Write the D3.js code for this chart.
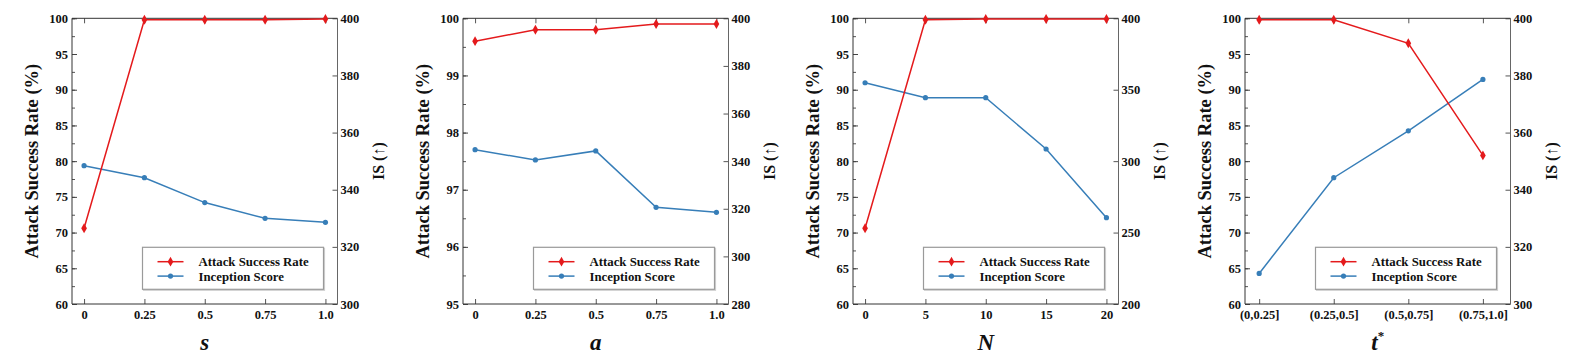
<!DOCTYPE html>
<html>
<head>
<meta charset="utf-8">
<script src="https://cdn.jsdelivr.net/npm/d3@7"></script>
<style>
  html, body { margin: 0; padding: 0; background: #fff; }
  svg { display: block; }
  text { font-family: "Liberation Serif", "Times New Roman", serif; font-weight: bold; }
</style>
</head>
<body>
<svg id="chart" width="1578" height="362"></svg>
<script>
// ---- Data ----
const asrLabel = "Attack Success Rate";
const isLabel = "Inception Score";

// Panel 1: s
const sValues = [0, 0.25, 0.5, 0.75, 1.0];
const sTickLabels = ["0", "0.25", "0.5", "0.75", "1.0"];
const sASR = [70.6, 99.8, 99.8, 99.8, 99.9];
const sIS = [348.4, 344.2, 335.5, 330.0, 328.6];

// Panel 2: a
const aValues = [0, 0.25, 0.5, 0.75, 1.0];
const aTickLabels = ["0", "0.25", "0.5", "0.75", "1.0"];
const aASR = [99.6, 99.8, 99.8, 99.9, 99.9];
const aIS = [344.8, 340.5, 344.3, 320.6, 318.5];

// Panel 3: N
const nValues = [0, 5, 10, 15, 20];
const nTickLabels = ["0", "5", "10", "15", "20"];
const nASR = [70.6, 99.8, 99.9, 99.9, 99.9];
const nIS = [354.9, 344.4, 344.4, 308.5, 260.4];

// Panel 4: t*
const tCategories = ["(0,0.25]", "(0.25,0.5]", "(0.5,0.75]", "(0.75,1.0]"];
const tASR = [99.8, 99.8, 96.5, 80.8];
const tIS = [310.7, 344.2, 360.6, 378.6];

// Axis tick labels
const leftTicksA = [60, 65, 70, 75, 80, 85, 90, 95, 100];
const leftTicksB = [95, 96, 97, 98, 99, 100];
const rightTicks1 = [300, 320, 340, 360, 380, 400];
const rightTicks2 = [280, 300, 320, 340, 360, 380, 400];
const rightTicks3 = [200, 250, 300, 350, 400];

const RED = "#e41a1c";
const BLUE = "#377eb8";

const panels = [
  { left: 72, xs: sValues, xLabels: sTickLabels, xDomain: [-0.05, 1.05], asr: sASR, is: sIS,
    yDomain: [60, 100], yTicks: leftTicksA, yMinor: 2.5, y2Domain: [300, 400], y2Ticks: rightTicks1, title: "s" },
  { left: 463, xs: aValues, xLabels: aTickLabels, xDomain: [-0.05, 1.05], asr: aASR, is: aIS,
    yDomain: [95, 100], yTicks: leftTicksB, yMinor: 0.5, y2Domain: [280, 400], y2Ticks: rightTicks2, title: "a" },
  { left: 853, xs: nValues, xLabels: nTickLabels, xDomain: [-1, 21], asr: nASR, is: nIS,
    yDomain: [60, 100], yTicks: leftTicksA, yMinor: 2.5, y2Domain: [200, 400], y2Ticks: rightTicks3, title: "N" },
  { left: 1245, xs: tCategories.map((d, i) => i), xLabels: tCategories, xDomain: [-0.19, 3.37], asr: tASR, is: tIS,
    yDomain: [60, 100], yTicks: leftTicksA, yMinor: 2.5, y2Domain: [300, 400], y2Ticks: rightTicks1, title: "t*" }
];

const W = 265.5, TOP = 18.3, BOTTOM = 304;
const svg = d3.select("#chart");

panels.forEach(p => {
  const g = svg.append("g").attr("transform", `translate(${p.left},${TOP})`);
  const h = BOTTOM - TOP;
  const x = d3.scaleLinear().domain(p.xDomain).range([0, W]);
  const y = d3.scaleLinear().domain(p.yDomain).range([h, 0]);
  const y2 = d3.scaleLinear().domain(p.y2Domain).range([h, 0]);

  const fmtX = (d) => p.xLabels[p.xs.indexOf(d)];

  // minor left ticks
  const minor = d3.range(p.yDomain[0], p.yDomain[1] + 1e-9, p.yMinor);
  g.append("g").call(d3.axisLeft(y).tickValues(minor).tickSize(-3).tickFormat(""))
    .call(a => a.select(".domain").remove())
    .call(a => a.selectAll("line").attr("stroke", "#555"));
  // left axis
  g.append("g").call(d3.axisLeft(y).tickValues(p.yTicks).tickSize(-5).tickPadding(4).tickFormat(d3.format("d")))
    .call(a => a.select(".domain").remove())
    .call(a => a.selectAll("line").attr("stroke", "#444"))
    .call(a => a.selectAll("text").attr("font-size", 12.5).attr("fill", "#111")
      .style("font-family", '"Liberation Serif", serif').style("font-weight", "bold"));
  // right axis
  g.append("g").attr("transform", `translate(${W},0)`)
    .call(d3.axisRight(y2).tickValues(p.y2Ticks).tickSize(-5).tickPadding(3).tickFormat(d3.format("d")))
    .call(a => a.select(".domain").remove())
    .call(a => a.selectAll("line").attr("stroke", "#555"))
    .call(a => a.selectAll("text").attr("font-size", 12.5).attr("fill", "#111")
      .style("font-family", '"Liberation Serif", serif').style("font-weight", "bold"));
  // bottom axis
  g.append("g").attr("transform", `translate(0,${h})`)
    .call(d3.axisBottom(x).tickValues(p.xs).tickSize(-5).tickPadding(6).tickFormat(fmtX))
    .call(a => a.select(".domain").remove())
    .call(a => a.selectAll("line").attr("stroke", "#555"))
    .call(a => a.selectAll("text").attr("font-size", 12.5).attr("fill", "#111")
      .style("font-family", '"Liberation Serif", serif').style("font-weight", "bold"));
  // top axis
  g.append("g")
    .call(d3.axisTop(x).tickValues(p.xs).tickSize(-5).tickFormat(""))
    .call(a => a.select(".domain").remove())
    .call(a => a.selectAll("line").attr("stroke", "#555"));

  // frame
  g.append("line").attr("x1", 0).attr("x2", W).attr("y1", 0).attr("y2", 0).attr("stroke", "#333");
  g.append("line").attr("x1", 0).attr("x2", W).attr("y1", h).attr("y2", h).attr("stroke", "#333");
  g.append("line").attr("x1", 0).attr("x2", 0).attr("y1", 0).attr("y2", h).attr("stroke", "#333");
  g.append("line").attr("x1", W).attr("x2", W).attr("y1", 0).attr("y2", h).attr("stroke", "#666");

  // series
  const isData = p.xs.map((d, i) => [d, p.is[i]]);
  const asrData = p.xs.map((d, i) => [d, p.asr[i]]);
  g.append("path").datum(isData)
    .attr("d", d3.line().x(d => x(d[0])).y(d => y2(d[1])))
    .attr("fill", "none").attr("stroke", BLUE).attr("stroke-width", 1.5);
  g.selectAll(".isdot").data(isData).enter().append("circle")
    .attr("cx", d => x(d[0])).attr("cy", d => y2(d[1])).attr("r", 2.6).attr("fill", BLUE);
  g.append("path").datum(asrData)
    .attr("d", d3.line().x(d => x(d[0])).y(d => y(d[1])))
    .attr("fill", "none").attr("stroke", RED).attr("stroke-width", 1.5);
  const diamond = d3.symbol().type(d3.symbolDiamond).size(28);
  g.selectAll(".asrdot").data(asrData).enter().append("path")
    .attr("transform", d => `translate(${x(d[0])},${y(d[1])})`)
    .attr("d", diamond).attr("fill", RED);

  // legend
  const lw = 181, lh = 42;
  const lx = W - 14 - lw, ly = 247.3 - TOP;
  const lg = g.append("g").attr("transform", `translate(${lx},${ly})`);
  lg.append("rect").attr("x", 1).attr("y", 1).attr("width", lw).attr("height", lh)
    .attr("fill", "none").attr("stroke", "#d0d0d0").attr("stroke-width", 1.2);
  lg.append("rect").attr("width", lw).attr("height", lh)
    .attr("fill", "#fff").attr("stroke", "#9a9a9a").attr("stroke-width", 1.2);
  const items = [{ label: asrLabel, color: RED, sym: "d" }, { label: isLabel, color: BLUE, sym: "c" }];
  items.forEach((it, i) => {
    const yy = 14.4 + i * 14.4;
    lg.append("line").attr("x1", 15).attr("x2", 41).attr("y1", yy).attr("y2", yy)
      .attr("stroke", it.color).attr("stroke-width", 1.5);
    if (it.sym === "d") {
      lg.append("path").attr("transform", `translate(28,${yy})`).attr("d", diamond).attr("fill", it.color);
    } else {
      lg.append("circle").attr("cx", 28).attr("cy", yy).attr("r", 2.6).attr("fill", it.color);
    }
    lg.append("text").attr("x", 56).attr("y", yy).attr("dy", "0.35em")
      .attr("font-size", 12.8).attr("fill", "#111").text(it.label);
  });

  // axis titles
  g.append("text").attr("transform", `translate(-40,${h / 2}) rotate(-90)`)
    .attr("text-anchor", "middle").attr("dy", "0.35em").attr("font-size", 18.5).attr("fill", "#111")
    .text("Attack Success Rate (%)");
  g.append("text").attr("transform", `translate(${W + 41},${h / 2}) rotate(-90)`)
    .attr("text-anchor", "middle").attr("dy", "0.35em").attr("font-size", 16).attr("fill", "#111")
    .text("IS (↑)");
  const xt = g.append("text").attr("x", W / 2).attr("y", h + 46).attr("text-anchor", "middle")
    .attr("font-size", 23).attr("font-style", "italic").attr("fill", "#111");
  if (p.title === "t*") {
    xt.append("tspan").text("t");
    xt.append("tspan").attr("font-size", 13).attr("font-style", "normal").attr("dy", -10).text("*");
  } else {
    xt.text(p.title);
  }
});
</script>
</body>
</html>
